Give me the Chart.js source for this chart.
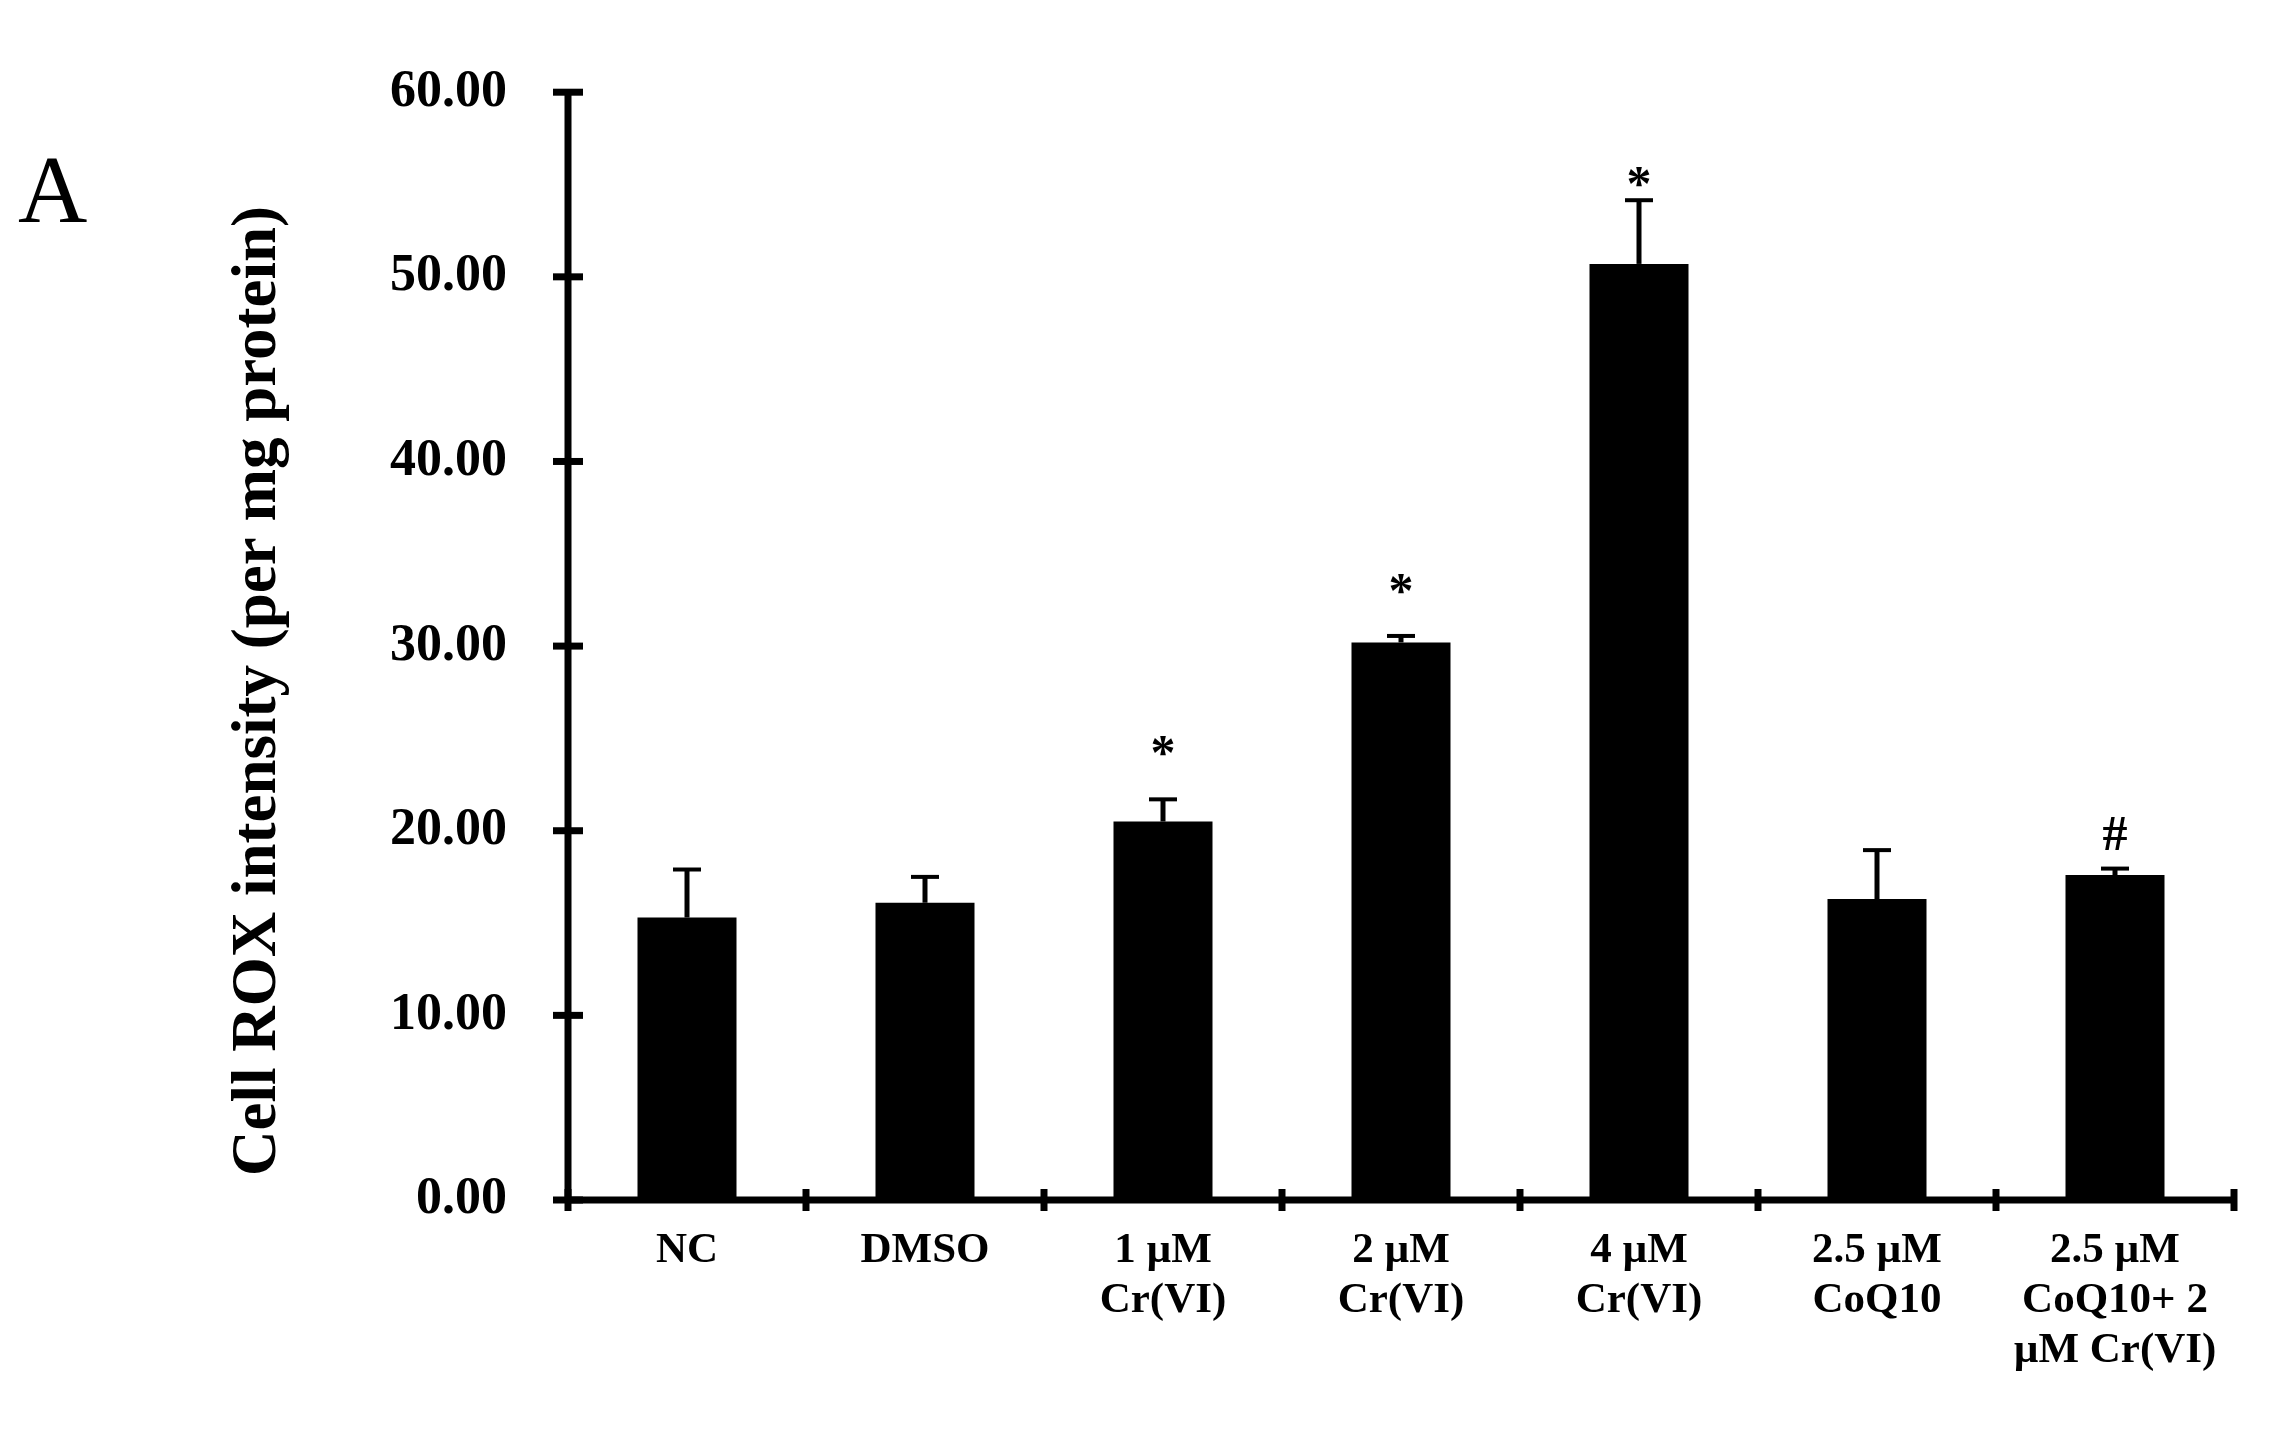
<!DOCTYPE html>
<html>
<head>
<meta charset="utf-8">
<script src="https://cdn.jsdelivr.net/npm/chart.js@4.4.1/dist/chart.umd.min.js"></script>
<style>
  html, body { margin: 0; padding: 0; background: #ffffff; }
  #wrap { width: 2288px; height: 1448px; position: relative; }
</style>
</head>
<body>
<div id="wrap"><canvas id="c" width="2288" height="1448"></canvas></div>
<script>
// ---- data ----
const categories = [
  ['NC'],
  ['DMSO'],
  ['1 µM', 'Cr(VI)'],
  ['2 µM', 'Cr(VI)'],
  ['4 µM', 'Cr(VI)'],
  ['2.5 µM', 'CoQ10'],
  ['2.5 µM', 'CoQ10+ 2', 'µM Cr(VI)']
];
const meanValues = [15.3, 16.1, 20.5, 30.2, 50.7, 16.3, 17.6];
const errorValues = [2.6, 1.4, 1.2, 0.35, 3.45, 2.65, 0.35];
const sigLabels = ['', '', '*', '*', '*', '', '#'];
const yTickValues = [0, 10, 20, 30, 40, 50, 60];
const yTitle = 'Cell ROX intensity (per mg protein)';
const panelLabel = 'A';

const SERIF = '"Liberation Serif", "Times New Roman", serif';

const decorPlugin = {
  id: 'decor',
  afterDatasetsDraw(chart, args, opts) {
    const ctx = chart.ctx;
    const y = chart.scales.y;
    const meta = chart.getDatasetMeta(0);
    ctx.save();
    ctx.strokeStyle = '#000';
    ctx.fillStyle = '#000';
    meta.data.forEach((bar, i) => {
      const x = bar.x;
      const yBar = y.getPixelForValue(meanValues[i]);
      const yTop = y.getPixelForValue(meanValues[i] + errorValues[i]);
      ctx.lineWidth = 5;
      ctx.beginPath();
      ctx.moveTo(x, yBar);
      ctx.lineTo(x, yTop);
      ctx.stroke();
      ctx.lineWidth = 4;
      ctx.beginPath();
      ctx.moveTo(x - 14, yTop);
      ctx.lineTo(x + 14, yTop);
      ctx.stroke();
      if (sigLabels[i]) {
        ctx.font = 'bold 50px ' + SERIF;
        ctx.textAlign = 'center';
        ctx.textBaseline = 'alphabetic';
        ctx.fillText(sigLabels[i], x, yTop - opts.sigGap[i]);
      }
    });
    ctx.restore();
  },
  afterDraw(chart, args, opts) {
    const ctx = chart.ctx;
    const xs = chart.scales.x;
    const ys = chart.scales.y;
    const area = chart.chartArea;
    ctx.save();
    ctx.strokeStyle = '#000';
    ctx.lineCap = 'butt';
    // axis lines
    ctx.lineWidth = 7;
    ctx.beginPath();
    ctx.moveTo(area.left, ys.getPixelForValue(60));
    ctx.lineTo(area.left, ys.getPixelForValue(0));
    ctx.stroke();
    ctx.beginPath();
    ctx.moveTo(area.left, ys.getPixelForValue(0));
    ctx.lineTo(area.right, ys.getPixelForValue(0));
    ctx.stroke();
    // y ticks (crossing the axis)
    ctx.lineWidth = 7;
    yTickValues.forEach(v => {
      const py = ys.getPixelForValue(v);
      ctx.beginPath();
      ctx.moveTo(area.left - 15, py);
      ctx.lineTo(area.left + 15, py);
      ctx.stroke();
    });
    // x ticks at category boundaries
    const n = categories.length;
    const step = n > 1 ? xs.getPixelForValue(1) - xs.getPixelForValue(0) : (area.right - area.left);
    const y0 = ys.getPixelForValue(0);
    for (let k = 0; k <= n; k++) {
      const px = xs.getPixelForValue(0) - step / 2 + k * step;
      ctx.beginPath();
      ctx.moveTo(px, y0 - 11);
      ctx.lineTo(px, y0 + 11);
      ctx.stroke();
    }
    // y title
    ctx.fillStyle = '#000';
    ctx.font = 'bold 63px ' + SERIF;
    ctx.textAlign = 'center';
    ctx.textBaseline = 'alphabetic';
    ctx.translate(275, 691);
    ctx.rotate(-Math.PI / 2);
    ctx.fillText(yTitle, 0, 0);
    ctx.restore();
    // panel label
    ctx.save();
    ctx.fillStyle = '#000';
    ctx.font = '96px ' + SERIF;
    ctx.textAlign = 'left';
    ctx.textBaseline = 'alphabetic';
    ctx.fillText(panelLabel, 18, 222);
    ctx.restore();
  }
};

new Chart(document.getElementById('c'), {
  type: 'bar',
  data: {
    labels: categories,
    datasets: [{
      data: meanValues,
      backgroundColor: '#000000',
      borderWidth: 0,
      categoryPercentage: 1.0,
      barPercentage: 0.416
    }]
  },
  options: {
    responsive: false,
    maintainAspectRatio: false,
    animation: false,
    devicePixelRatio: 1,
    layout: { padding: { top: 87, right: 54, left: 0, bottom: 0 } },
    scales: {
      x: {
        grid: { display: false, drawTicks: false },
        border: { display: false },
        ticks: {
          color: '#000',
          font: { family: SERIF, weight: 'bold', size: 43, lineHeight: 50 / 43 },
          padding: 26,
          maxRotation: 0,
          minRotation: 0,
          autoSkip: false
        },
        afterFit: s => { s.height = 248; }
      },
      y: {
        min: 0,
        max: 60,
        grid: { display: false, drawTicks: false },
        border: { display: false },
        ticks: {
          stepSize: 10,
          color: '#000',
          font: { family: SERIF, weight: 'bold', size: 52 },
          padding: 61,
          callback: v => Number(v).toFixed(2)
        },
        afterFit: s => { s.width = 568; }
      }
    },
    plugins: {
      legend: { display: false },
      tooltip: { enabled: false },
      decor: { sigGap: [0, 0, 30, 29, 0, 0, 19] }
    }
  },
  plugins: [decorPlugin]
});
</script>
</body>
</html>
